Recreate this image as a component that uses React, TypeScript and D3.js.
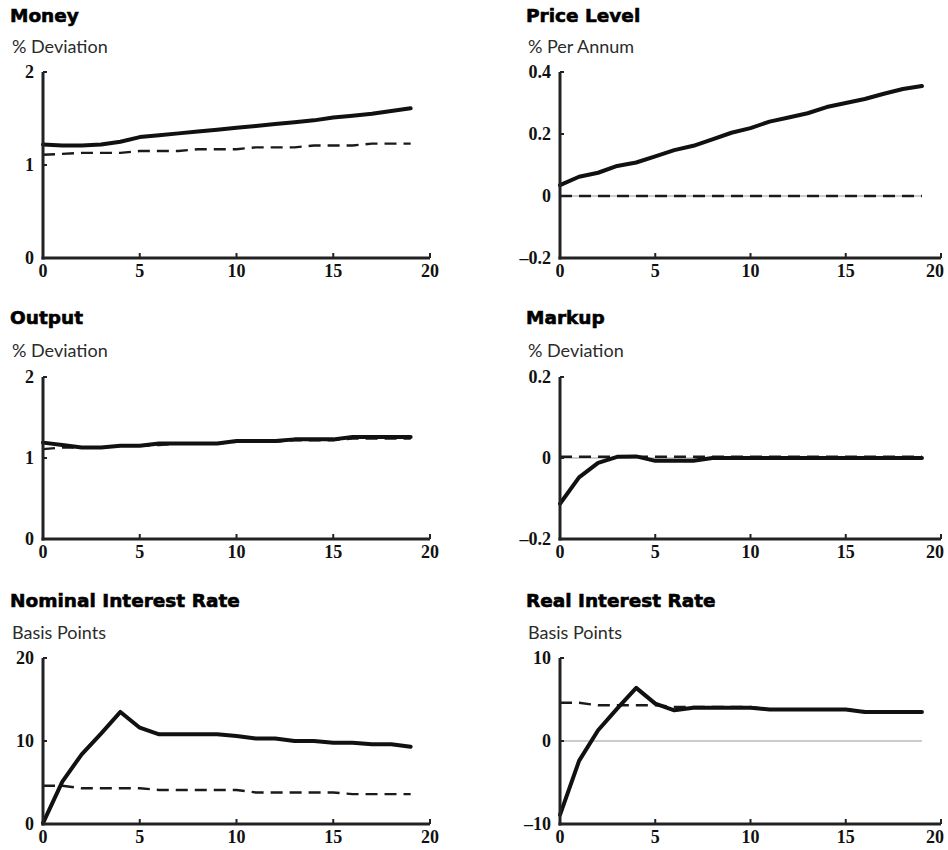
import React from "react";
import * as d3 from "d3";

const periods = [0, 1, 2, 3, 4, 5, 6, 7, 8, 9, 10, 11, 12, 13, 14, 15, 16, 17, 18, 19];
const xTicks = [0, 5, 10, 15, 20];

const moneySolid = [1.22, 1.21, 1.21, 1.22, 1.25, 1.3, 1.32, 1.34, 1.36, 1.38, 1.4, 1.42, 1.44, 1.46, 1.48, 1.51, 1.53, 1.55, 1.58, 1.61];
const moneyDashed = [1.11, 1.12, 1.13, 1.13, 1.13, 1.15, 1.15, 1.15, 1.17, 1.17, 1.17, 1.19, 1.19, 1.19, 1.21, 1.21, 1.21, 1.23, 1.23, 1.23];

const priceSolid = [0.035, 0.062, 0.075, 0.097, 0.108, 0.128, 0.148, 0.162, 0.183, 0.204, 0.219, 0.24, 0.253, 0.267, 0.287, 0.3, 0.313, 0.33, 0.345, 0.355];
const priceDashed = [0, 0, 0, 0, 0, 0, 0, 0, 0, 0, 0, 0, 0, 0, 0, 0, 0, 0, 0, 0];

const outputSolid = [1.19, 1.16, 1.13, 1.13, 1.15, 1.15, 1.18, 1.18, 1.18, 1.18, 1.21, 1.21, 1.21, 1.23, 1.23, 1.23, 1.26, 1.26, 1.26, 1.26];
const outputDashed = [1.11, 1.13, 1.13, 1.13, 1.15, 1.15, 1.16, 1.18, 1.18, 1.18, 1.2, 1.2, 1.2, 1.22, 1.22, 1.22, 1.24, 1.24, 1.24, 1.24];

const markupSolid = [-0.113, -0.048, -0.012, 0.003, 0.004, -0.007, -0.007, -0.007, 0, 0, 0, 0, 0, 0, 0, 0, 0, 0, 0, 0];
const markupDashed = [0.003, 0.003, 0.003, 0.003, 0.003, 0.003, 0.003, 0.003, 0.003, 0.003, 0.003, 0.003, 0.003, 0.003, 0.003, 0.003, 0.003, 0.003, 0.003, 0.003];

const nominalSolid = [0.1, 5.1, 8.4, 10.9, 13.5, 11.6, 10.8, 10.8, 10.8, 10.8, 10.6, 10.3, 10.3, 10.0, 10.0, 9.8, 9.8, 9.6, 9.6, 9.3];
const nominalDashed = [4.6, 4.6, 4.3, 4.3, 4.3, 4.3, 4.1, 4.1, 4.1, 4.1, 4.1, 3.8, 3.8, 3.8, 3.8, 3.8, 3.6, 3.6, 3.6, 3.6];

const realSolid = [-8.9, -2.4, 1.3, 3.9, 6.4, 4.5, 3.7, 4.0, 4.0, 4.0, 4.0, 3.8, 3.8, 3.8, 3.8, 3.8, 3.5, 3.5, 3.5, 3.5];
const realDashed = [4.6, 4.6, 4.3, 4.3, 4.3, 4.3, 4.1, 4.1, 4.1, 4.1, 4.1, 3.8, 3.8, 3.8, 3.8, 3.8, 3.6, 3.6, 3.6, 3.6];

const titles = ["Money", "Price Level", "Output", "Markup", "Nominal Interest Rate", "Real Interest Rate"];
const subtitles = ["% Deviation", "% Per Annum", "% Deviation", "% Deviation", "Basis Points", "Basis Points"];
const yTickValues = [[0, 1, 2], [-0.2, 0, 0.2, 0.4], [0, 1, 2], [-0.2, 0, 0.2], [0, 10, 20], [-10, 0, 10]];
const yTickLabels = [["0", "1", "2"], ["\u20130.2", "0", "0.2", "0.4"], ["0", "1", "2"], ["\u20130.2", "0", "0.2"], ["0", "10", "20"], ["\u201310", "0", "10"]];
const solids = [moneySolid, priceSolid, outputSolid, markupSolid, nominalSolid, realSolid];
const dasheds = [moneyDashed, priceDashed, outputDashed, markupDashed, nominalDashed, realDashed];
const zeroLines = [false, true, false, true, false, true];

// layout
const colLeft = [43, 560];
const colRight = [430, 941];
const titleX = [10, 526];
const rowTop = [72, 377, 658];
const rowBottom = [258, 539, 824];
const titleBaseline = [22, 324, 607];
const subBaseline = [53, 357, 639];
const maxLabelX = 935;

function Panel({ i }: { i: number }) {
  const col = i % 2;
  const row = Math.floor(i / 2);
  const ticks = yTickValues[i];
  const x = d3.scaleLinear().domain([0, 20]).range([colLeft[col], colRight[col]]);
  const y = d3.scaleLinear().domain([ticks[0], ticks[ticks.length - 1]]).range([rowBottom[row], rowTop[row]]);
  const line = d3
    .line<number>()
    .x((_, k) => x(periods[k]))
    .y((d) => y(d));
  const x0 = x(0);
  const yb = y(ticks[0]);
  return (
    <g>
      <text
        x={titleX[col]}
        y={titleBaseline[row]}
        fontFamily="DejaVu Sans"
        fontWeight={700}
        fontSize={18.5}
        fill="#000"
        stroke="#000"
        strokeWidth={0.6}
      >
        {titles[i]}
      </text>
      <text x={titleX[col] + 2} y={subBaseline[row]} fontFamily="Lato" fontSize={18} fill="#2b2b2b">
        {subtitles[i]}
      </text>
      {zeroLines[i] && (
        <line x1={x0} x2={x(19)} y1={y(0)} y2={y(0)} stroke="#999" strokeWidth={1} />
      )}
      <path d={line(dasheds[i]) || ""} fill="none" stroke="#1a1a1a" strokeWidth={2.4} strokeDasharray="12,7" />
      <path d={line(solids[i]) || ""} fill="none" stroke="#111" strokeWidth={4} strokeLinejoin="round" strokeLinecap="round" />
      {/* axes */}
      <line x1={x0} x2={x0} y1={y(ticks[ticks.length - 1])} y2={yb + 1.5} stroke="#222" strokeWidth={3} />
      <line x1={x0 - 1.5} x2={x(20)} y1={yb} y2={yb} stroke="#222" strokeWidth={3} />
      {xTicks.map((t) => (
        <g key={"x" + t}>
          {t > 0 && <line x1={x(t)} x2={x(t)} y1={yb} y2={yb - 5} stroke="#222" strokeWidth={2} />}
          <text
            x={Math.min(x(t), maxLabelX)}
            y={yb + 19}
            textAnchor="middle"
            fontFamily="Liberation Serif"
            fontWeight={700}
            fontSize={18}
            fill="#111"
          >
            {t}
          </text>
        </g>
      ))}
      {ticks.map((t, k) => (
        <g key={"y" + k}>
          {k > 0 && <line x1={x0} x2={x0 + 4} y1={y(t)} y2={y(t)} stroke="#222" strokeWidth={2} />}
          <text
            x={x0 - 9}
            y={y(t) + 6}
            textAnchor="end"
            fontFamily="Liberation Serif"
            fontWeight={700}
            fontSize={18}
            fill="#111"
          >
            {yTickLabels[i][k]}
          </text>
        </g>
      ))}
    </g>
  );
}

export default function App() {
  return (
    <svg width={948} height={850} style={{ position: "absolute", left: 0, top: 0, background: "#fff" }}>
      <rect width={948} height={850} fill="#fff" />
      {[0, 1, 2, 3, 4, 5].map((i) => (
        <Panel key={i} i={i} />
      ))}
    </svg>
  );
}
